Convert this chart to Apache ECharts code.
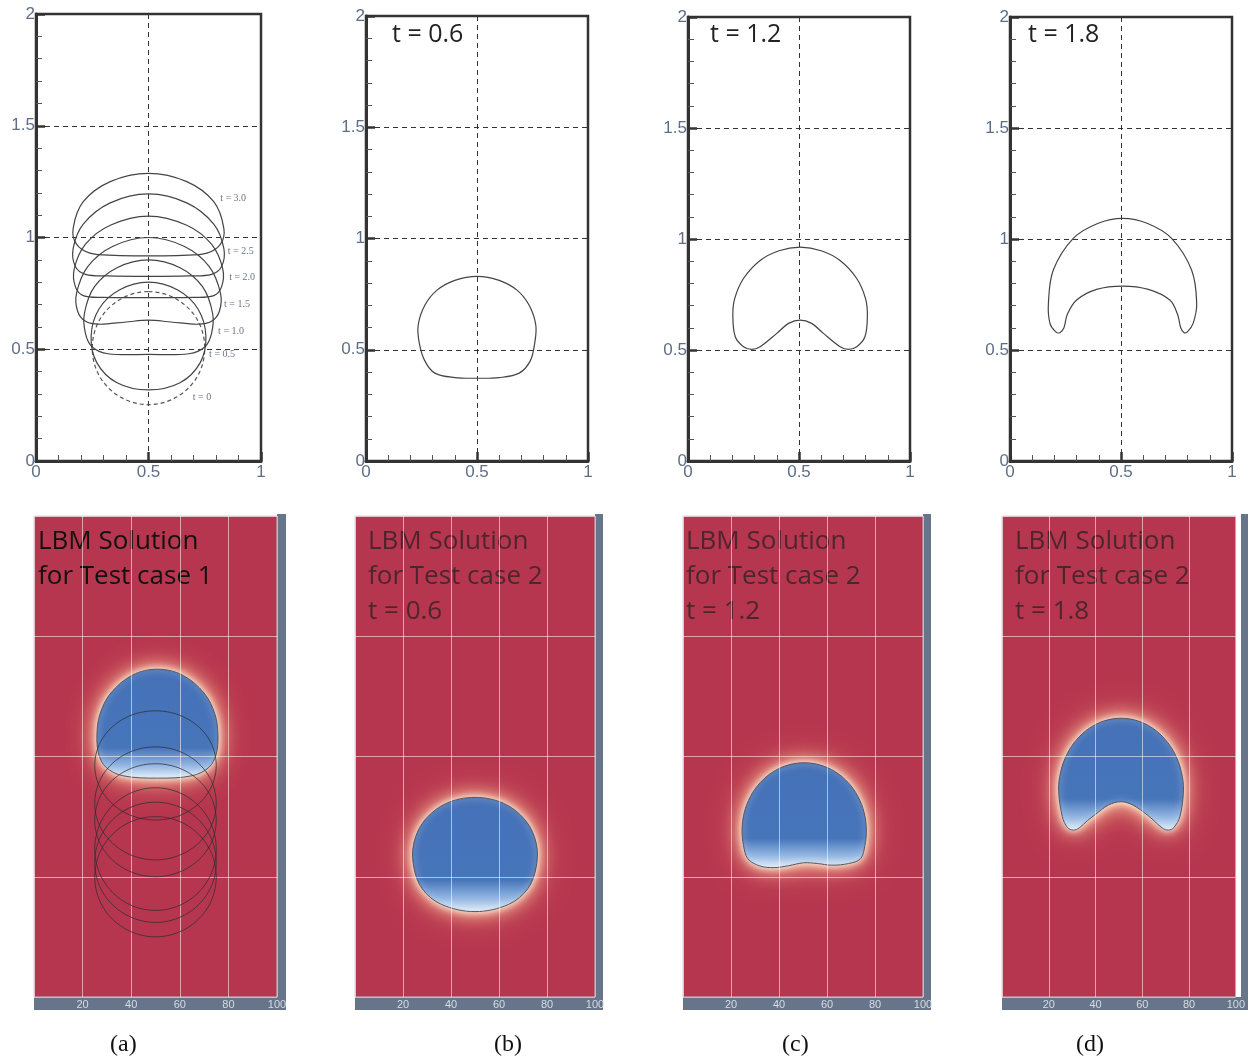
<!DOCTYPE html>
<html>
<head>
<meta charset="utf-8">
<script src="https://cdn.jsdelivr.net/npm/echarts@6/dist/echarts.min.js"></script>
<style>
html, body { margin: 0; background: #fff; }
#main { width: 1248px; height: 1062px; }
</style>
</head>
<body>
<div id="main"></div>
<script>
// ---- top row: interface contours, x 0..1, y 0..2 ----
const topA_t0  = [[0.5,0.758],[0.625,0.724],[0.717,0.632],[0.75,0.505],[0.717,0.378],[0.625,0.286],[0.5,0.252],[0.375,0.286],[0.283,0.378],[0.25,0.505],[0.283,0.632],[0.375,0.724]];
const topA_t05 = [[0.5,0.80],[0.63,0.765],[0.72,0.68],[0.755,0.56],[0.73,0.44],[0.64,0.35],[0.5,0.318],[0.36,0.35],[0.27,0.44],[0.245,0.56],[0.28,0.68],[0.37,0.765]];
const topA_t10 = [[0.5,0.90],[0.64,0.865],[0.74,0.78],[0.785,0.66],[0.78,0.57],[0.75,0.51],[0.68,0.48],[0.5,0.477],[0.32,0.48],[0.25,0.51],[0.22,0.57],[0.215,0.66],[0.26,0.78],[0.36,0.865]];
const topA_t15 = [[0.5,1.0],[0.66,0.96],[0.77,0.87],[0.82,0.75],[0.815,0.67],[0.78,0.625],[0.72,0.612],[0.6,0.622],[0.5,0.63],[0.4,0.622],[0.28,0.612],[0.22,0.625],[0.185,0.67],[0.18,0.75],[0.23,0.87],[0.34,0.96]];
const topA_t20 = [[0.5,1.096],[0.67,1.055],[0.78,0.97],[0.83,0.86],[0.825,0.78],[0.79,0.74],[0.7,0.732],[0.5,0.731],[0.3,0.732],[0.21,0.74],[0.175,0.78],[0.17,0.86],[0.22,0.97],[0.33,1.055]];
const topA_t25 = [[0.5,1.195],[0.67,1.155],[0.79,1.06],[0.835,0.95],[0.825,0.87],[0.78,0.835],[0.68,0.828],[0.5,0.826],[0.32,0.828],[0.22,0.835],[0.175,0.87],[0.165,0.95],[0.21,1.06],[0.33,1.155]];
const topA_t30 = [[0.5,1.287],[0.67,1.25],[0.79,1.16],[0.835,1.04],[0.82,0.97],[0.76,0.93],[0.65,0.92],[0.5,0.918],[0.35,0.92],[0.24,0.93],[0.18,0.97],[0.165,1.04],[0.21,1.16],[0.33,1.25]];
const topB = [[0.5,0.83],[0.6,0.812],[0.68,0.768],[0.735,0.7],[0.765,0.61],[0.76,0.53],[0.74,0.45],[0.69,0.395],[0.6,0.375],[0.5,0.372],[0.4,0.375],[0.31,0.395],[0.265,0.45],[0.24,0.53],[0.235,0.61],[0.265,0.7],[0.32,0.768],[0.4,0.812]];
const topC = [[0.505,0.963],[0.6,0.947],[0.685,0.903],[0.76,0.822],[0.8,0.73],[0.808,0.65],[0.797,0.56],[0.76,0.515],[0.722,0.503],[0.685,0.515],[0.61,0.575],[0.557,0.62],[0.505,0.635],[0.453,0.62],[0.40,0.575],[0.325,0.515],[0.288,0.503],[0.25,0.515],[0.213,0.56],[0.202,0.65],[0.21,0.73],[0.25,0.822],[0.325,0.903],[0.41,0.947]];
const topD = [[0.508,1.093],[0.62,1.07],[0.728,1.003],[0.818,0.86],[0.841,0.71],[0.825,0.62],[0.8,0.583],[0.784,0.578],[0.769,0.6],[0.755,0.66],[0.72,0.725],[0.623,0.773],[0.508,0.788],[0.39,0.773],[0.3,0.725],[0.258,0.66],[0.243,0.6],[0.225,0.578],[0.205,0.583],[0.18,0.62],[0.173,0.71],[0.195,0.86],[0.285,1.003],[0.395,1.07]];

const aLabelText = ['t = 3.0', 't = 2.5', 't = 2.0', 't = 1.5', 't = 1.0', 't = 0.5', 't = 0'];
const aLabelX = [0.876, 0.91, 0.916, 0.893, 0.867, 0.827, 0.738];
const aLabelY = [1.177, 0.94, 0.823, 0.70, 0.58, 0.479, 0.286];

const topTitles = ['t = 0.6', 't = 1.2', 't = 1.8'];

// ---- bottom row: LBM fields, x 0..100, y 0..200 ----
const botA = [[50.8,136.3],[61,133.9],[70,126.4],[74.5,117.5],[75.7,109],[75,101],[72,95.5],[65,92],[50.8,91],[36.6,92],[29.6,95.5],[26.6,101],[25.9,109],[27.1,117.5],[31.6,126.4],[40.6,133.9]];
const botA_o1 = [[75,96.3],[71.7,107.7],[62.5,116],[50,119],[37.5,116],[28.3,107.7],[25,96.3],[28.3,85],[37.5,76.6],[50,73.6],[62.5,76.6],[71.7,85]];
const botA_o2 = [[75,80.5],[71.7,92.3],[62.5,100.9],[50,104],[37.5,100.9],[28.3,92.3],[25,80.5],[28.3,68.8],[37.5,60.2],[50,57],[62.5,60.2],[71.7,68.8]];
const botA_o3 = [[75,73.5],[71.7,85.3],[62.5,93.9],[50,97],[37.5,93.9],[28.3,85.3],[25,73.5],[28.3,61.8],[37.5,53.2],[50,50],[62.5,53.2],[71.7,61.8]];
const botA_o4 = [[75,61.5],[71.7,74.3],[62.5,83.6],[50,87],[37.5,83.6],[28.3,74.3],[25,61.5],[28.3,48.8],[37.5,39.4],[50,36],[62.5,39.4],[71.7,48.8]];
const botA_o5 = [[75,56],[71.7,68.5],[62.5,77.7],[50,81],[37.5,77.7],[28.3,68.5],[25,56],[28.3,43.5],[37.5,34.4],[50,31],[62.5,34.4],[71.7,43.5]];
const botA_o6 = [[75,50],[71.7,62.5],[62.5,71.7],[50,75],[37.5,71.7],[28.3,62.5],[25,50],[28.3,37.5],[37.5,28.4],[50,25],[62.5,28.4],[71.7,37.5]];
const botB = [[50,83],[62,80.5],[71,73.5],[75.5,64],[75.5,54],[72,45],[64,38.5],[50,35.5],[36,38.5],[28,45],[24.5,54],[24.5,64],[29,73.5],[38,80.5]];
const botC = [[50.5,97.4],[57.2,96.45],[63.45,93.65],[68.8,89.2],[72.9,83.4],[75.5,76.6],[76.4,69.4],[75.8,63],[74,57.5],[69,55.5],[62,54.8],[56,55.5],[50.3,55.8],[44,54.6],[38,53.8],[32,54.5],[27,57.5],[25.2,63],[24.6,69.4],[25.5,76.6],[28.1,83.4],[32.2,89.2],[37.55,93.65],[43.8,96.45]];
const botD = [[50.9,115.9],[57.8,114.9],[64.25,111.9],[69.8,107.1],[74,101],[76.7,93.7],[77.6,86],[76.1,75],[73.5,70.5],[71.2,69.4],[68.5,70.3],[65,73.3],[62.1,75.7],[56,79.8],[50.9,81.2],[45.5,79.8],[39.7,75.7],[36.5,73.3],[33,70.3],[30.5,69.4],[28,70.5],[25.8,75],[24.2,86],[25.1,93.7],[27.8,101],[32,107.1],[37.55,111.9],[44,114.9]];

const botTexts = ['LBM Solution\nfor Test case 1', 'LBM Solution\nfor Test case 2\nt = 0.6', 'LBM Solution\nfor Test case 2\nt = 1.2', 'LBM Solution\nfor Test case 2\nt = 1.8'];
const captions = ['(a)', '(b)', '(c)', '(d)'];

const RED = '#b7364f';
const BAR = '#66758a';

let chartDom = document.getElementById('main');
let myChart = echarts.init(chartDom);

const grids = [
  { left: 36, top: 14, width: 225, height: 447 },
  { left: 366, top: 16, width: 222, height: 445 },
  { left: 688, top: 17, width: 222, height: 444 },
  { left: 1010, top: 17, width: 222, height: 444 },
  { left: 34, top: 516, width: 243, height: 481 },
  { left: 355, top: 516, width: 240, height: 481 },
  { left: 683, top: 516, width: 240, height: 481 },
  { left: 1002, top: 516, width: 239, height: 481 }
];

const xAxes = [], yAxes = [];
grids.forEach((g, i) => {
  if (i < 4) {
    g.show = true; g.borderColor = '#333'; g.borderWidth = 2.5;
    const common = {
      gridIndex: i, type: 'value', interval: 0.5,
      axisLine: { lineStyle: { color: '#333', width: 3 } },
      axisTick: { inside: true, length: 9, lineStyle: { color: '#333', width: 2.5 } },
      minorTick: { show: true, splitNumber: 5, length: 6, lineStyle: { color: '#555', width: 1 } },
      splitLine: { show: true, lineStyle: { color: '#333', type: [5, 4], width: 1 } },
      axisLabel: { color: '#5f6e86', fontSize: 17, fontFamily: 'Liberation Sans', margin: 3 }
    };
    xAxes.push(Object.assign({}, common, { min: 0, max: 1 }));
    yAxes.push(Object.assign({}, common, { min: 0, max: 2, axisLabel: Object.assign({}, common.axisLabel, { margin: 1 }) }));
  } else {
    g.show = true; g.backgroundColor = RED; g.borderColor = 'rgba(205,210,220,0.9)'; g.borderWidth = 1;
    const split = { show: true, lineStyle: { color: 'rgba(255,255,255,0.55)', width: 1 } };
    xAxes.push({
      gridIndex: i, type: 'value', min: 0, max: 100, interval: 20, z: 10,
      axisLine: { show: false }, axisTick: { show: false }, splitLine: split,
      axisLabel: { color: '#d6dce4', fontSize: 11, margin: 2, showMinLabel: false, fontFamily: 'Liberation Sans' }
    });
    yAxes.push({
      gridIndex: i, type: 'value', min: 0, max: 200, interval: 50, z: 10,
      axisLine: { show: false }, axisTick: { show: false }, axisLabel: { show: false }, splitLine: split
    });
  }
});

function outline(gi, pts, stroke, width, dash) {
  return {
    type: 'custom', xAxisIndex: gi, yAxisIndex: gi, silent: true, z: 12,
    data: [pts[0]],
    renderItem: function (params, api) {
      return {
        type: 'polygon',
        shape: { points: pts.map(p => api.coord(p)), smooth: 0.35 },
        style: { fill: 'none', stroke: stroke, lineWidth: width, lineDash: dash || null }
      };
    }
  };
}

function bubble(gi, pts) {
  return {
    type: 'custom', xAxisIndex: gi, yAxisIndex: gi, silent: true, z: 2,
    data: [pts[0]],
    renderItem: function (params, api) {
      const p = pts.map(q => api.coord(q));
      return {
        type: 'group',
        children: [
          { type: 'polygon', shape: { points: p, smooth: 0.35 },
            style: { fill: '#f2a37e', shadowBlur: 32, shadowColor: 'rgba(246,160,118,1)' } },
          { type: 'polygon', shape: { points: p, smooth: 0.35 },
            style: { fill: '#fbd9bd', shadowBlur: 18, shadowColor: 'rgba(252,214,182,1)' } },
          { type: 'polygon', shape: { points: p, smooth: 0.35 },
            style: {
              fill: new echarts.graphic.LinearGradient(0, 0, 0, 1, [
                { offset: 0, color: '#4571b7' },
                { offset: 0.72, color: '#4775ba' },
                { offset: 0.88, color: '#93b6e2' },
                { offset: 1, color: '#e4eef9' }
              ]),
              stroke: '#50555f', lineWidth: 1,
              shadowBlur: 7, shadowColor: 'rgba(255,246,232,1)'
            } }
        ]
      };
    }
  };
}

const series = [
  outline(0, topA_t0, '#555', 1.2, [4, 3]),
  outline(0, topA_t05, '#444', 1.2),
  outline(0, topA_t10, '#444', 1.2),
  outline(0, topA_t15, '#444', 1.2),
  outline(0, topA_t20, '#444', 1.2),
  outline(0, topA_t25, '#444', 1.2),
  outline(0, topA_t30, '#444', 1.2),
  outline(1, topB, '#444', 1.2),
  outline(2, topC, '#444', 1.2),
  outline(3, topD, '#444', 1.2),
  {
    type: 'scatter', xAxisIndex: 0, yAxisIndex: 0, symbolSize: 0, silent: true,
    data: aLabelText.map((t, i) => ({ value: [aLabelX[i], aLabelY[i]], name: t })),
    label: {
      show: true, position: [0, 0], align: 'center', verticalAlign: 'middle',
      formatter: p => p.name, fontSize: 10, fontFamily: 'Liberation Serif', color: '#44506a'
    }
  },
  bubble(4, botA),
  outline(4, botA_o1, 'rgba(45,45,50,0.75)', 1),
  outline(4, botA_o2, 'rgba(45,45,50,0.75)', 1),
  outline(4, botA_o3, 'rgba(45,45,50,0.75)', 1),
  outline(4, botA_o4, 'rgba(45,45,50,0.75)', 1),
  outline(4, botA_o5, 'rgba(45,45,50,0.75)', 1),
  outline(4, botA_o6, 'rgba(45,45,50,0.75)', 1),
  bubble(5, botB),
  bubble(6, botC),
  bubble(7, botD)
];

const titles = [];
[392, 710, 1028].forEach((x, i) => {
  titles.push({ text: topTitles[i], left: x, top: 22, padding: 0,
    textStyle: { fontSize: 25, fontWeight: 'normal', fontFamily: 'Open Sans', color: '#222', lineHeight: 25 } });
});
[38, 368, 686, 1015].forEach((x, i) => {
  titles.push({ text: botTexts[i], left: x, top: 524, padding: 0,
    textStyle: { fontSize: 26, fontWeight: 'normal', fontFamily: 'Open Sans', lineHeight: 35,
      color: i === 0 ? '#111' : 'rgba(35,30,32,0.72)' } });
});
[110, 494, 782, 1076].forEach((x, i) => {
  titles.push({ text: captions[i], left: x, top: 1033, padding: 0,
    textStyle: { fontSize: 24, fontWeight: 'normal', fontFamily: 'Liberation Serif', color: '#111', lineHeight: 24 } });
});

// grey frame pieces of the bottom panels
const graphics = [];
grids.slice(4).forEach((g, i) => {
  const right = [286, 603, 931, 1248][i];
  graphics.push({ type: 'rect', z: 1, shape: { x: g.left + g.width, y: g.top - 2, width: right - g.left - g.width, height: g.height + 15 }, style: { fill: BAR } });
  graphics.push({ type: 'rect', z: 1, shape: { x: g.left, y: g.top + g.height, width: right - g.left, height: 13 }, style: { fill: BAR } });
});

let option = {
  backgroundColor: '#fff',
  animation: false,
  title: titles,
  grid: grids,
  xAxis: xAxes,
  yAxis: yAxes,
  graphic: graphics,
  series: series
};
option && myChart.setOption(option);
</script>
</body>
</html>
